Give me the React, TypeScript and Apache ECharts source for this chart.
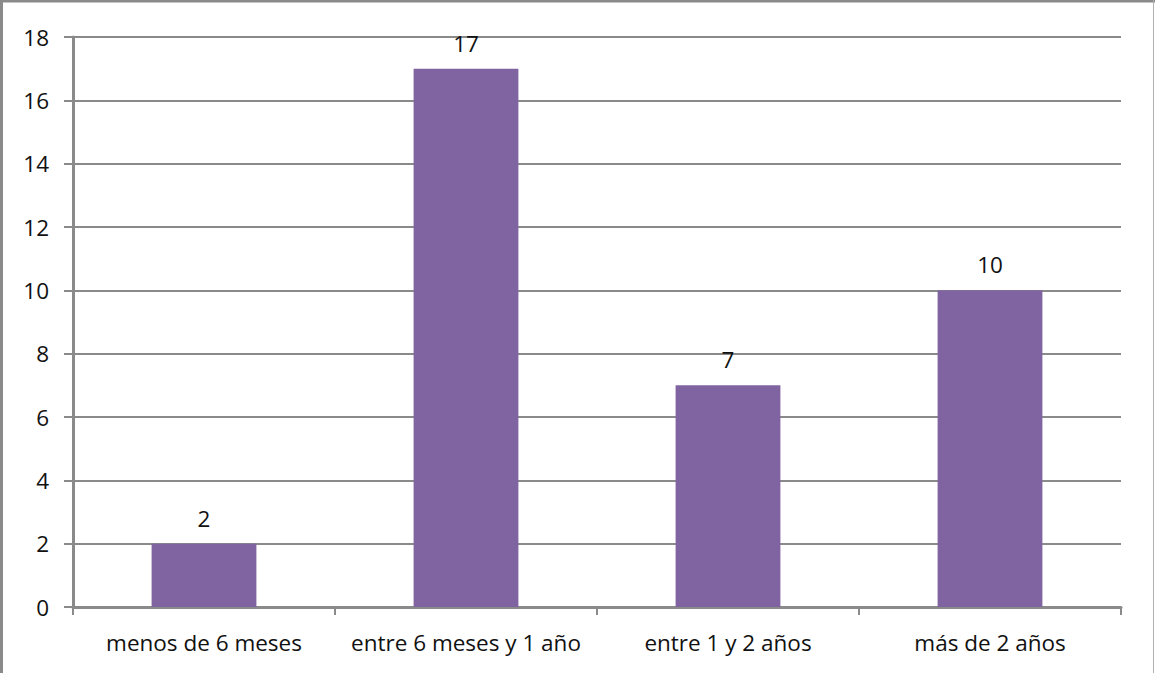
import React, { useEffect, useRef } from "react";
import * as echarts from "echarts";

const categories = ["menos de 6 meses", "entre 6 meses y 1 año", "entre 1 y 2 años", "más de 2 años"];
const values = [2, 17, 7, 10];
const yTicks = { min: 0, max: 18, interval: 2 };

export default function App() {
  const ref = useRef<HTMLDivElement>(null);
  useEffect(() => {
    const chart = echarts.init(ref.current!, null, { renderer: "svg" });
    const font = "'Open Sans', 'Liberation Sans', sans-serif";
    chart.setOption({
      animation: false,
      backgroundColor: "#ffffff",
      grid: { left: 73, right: 34, top: 37, bottom: 66 },
      graphic: [
        { type: "line", shape: { x1: 0, y1: 1, x2: 1155, y2: 1 }, style: { stroke: "#8a8a8a", lineWidth: 3 } },
        { type: "line", shape: { x1: 1.5, y1: 0, x2: 1.5, y2: 673 }, style: { stroke: "#8a8a8a", lineWidth: 3 } },
        { type: "line", shape: { x1: 1153.5, y1: 0, x2: 1153.5, y2: 673 }, style: { stroke: "#b0b0b0", lineWidth: 1 } },
      ],
      xAxis: {
        type: "category",
        data: categories,
        axisLine: { lineStyle: { color: "#8a8a8a", width: 3 } },
        axisTick: { show: true, interval: 0, length: 8, lineStyle: { color: "#8a8a8a", width: 2 } },
        axisLabel: { color: "#111", fontSize: 22.5, fontFamily: font, margin: 24, interval: 0 },
        splitLine: { show: false },
      },
      yAxis: {
        type: "value",
        min: yTicks.min,
        max: yTicks.max,
        interval: yTicks.interval,
        axisLine: { show: true, lineStyle: { color: "#8a8a8a", width: 3 } },
        axisTick: { show: true, length: 9, lineStyle: { color: "#8a8a8a", width: 2 } },
        axisLabel: { color: "#111", fontSize: 22.5, fontFamily: font, margin: 24 },
        splitLine: { show: true, lineStyle: { color: "#8a8a8a", width: 2 } },
      },
      series: [
        {
          type: "bar",
          data: values,
          barWidth: "40%",
          itemStyle: { color: "#8064A2" },
          label: { show: true, position: "top", distance: 14, color: "#111", fontSize: 22.5, fontFamily: font },
          z: 3,
        },
      ],
    });
    return () => chart.dispose();
  }, []);
  return <div ref={ref} style={{ position: "fixed", left: 0, top: 0, width: 1155, height: 673 }} />;
}
